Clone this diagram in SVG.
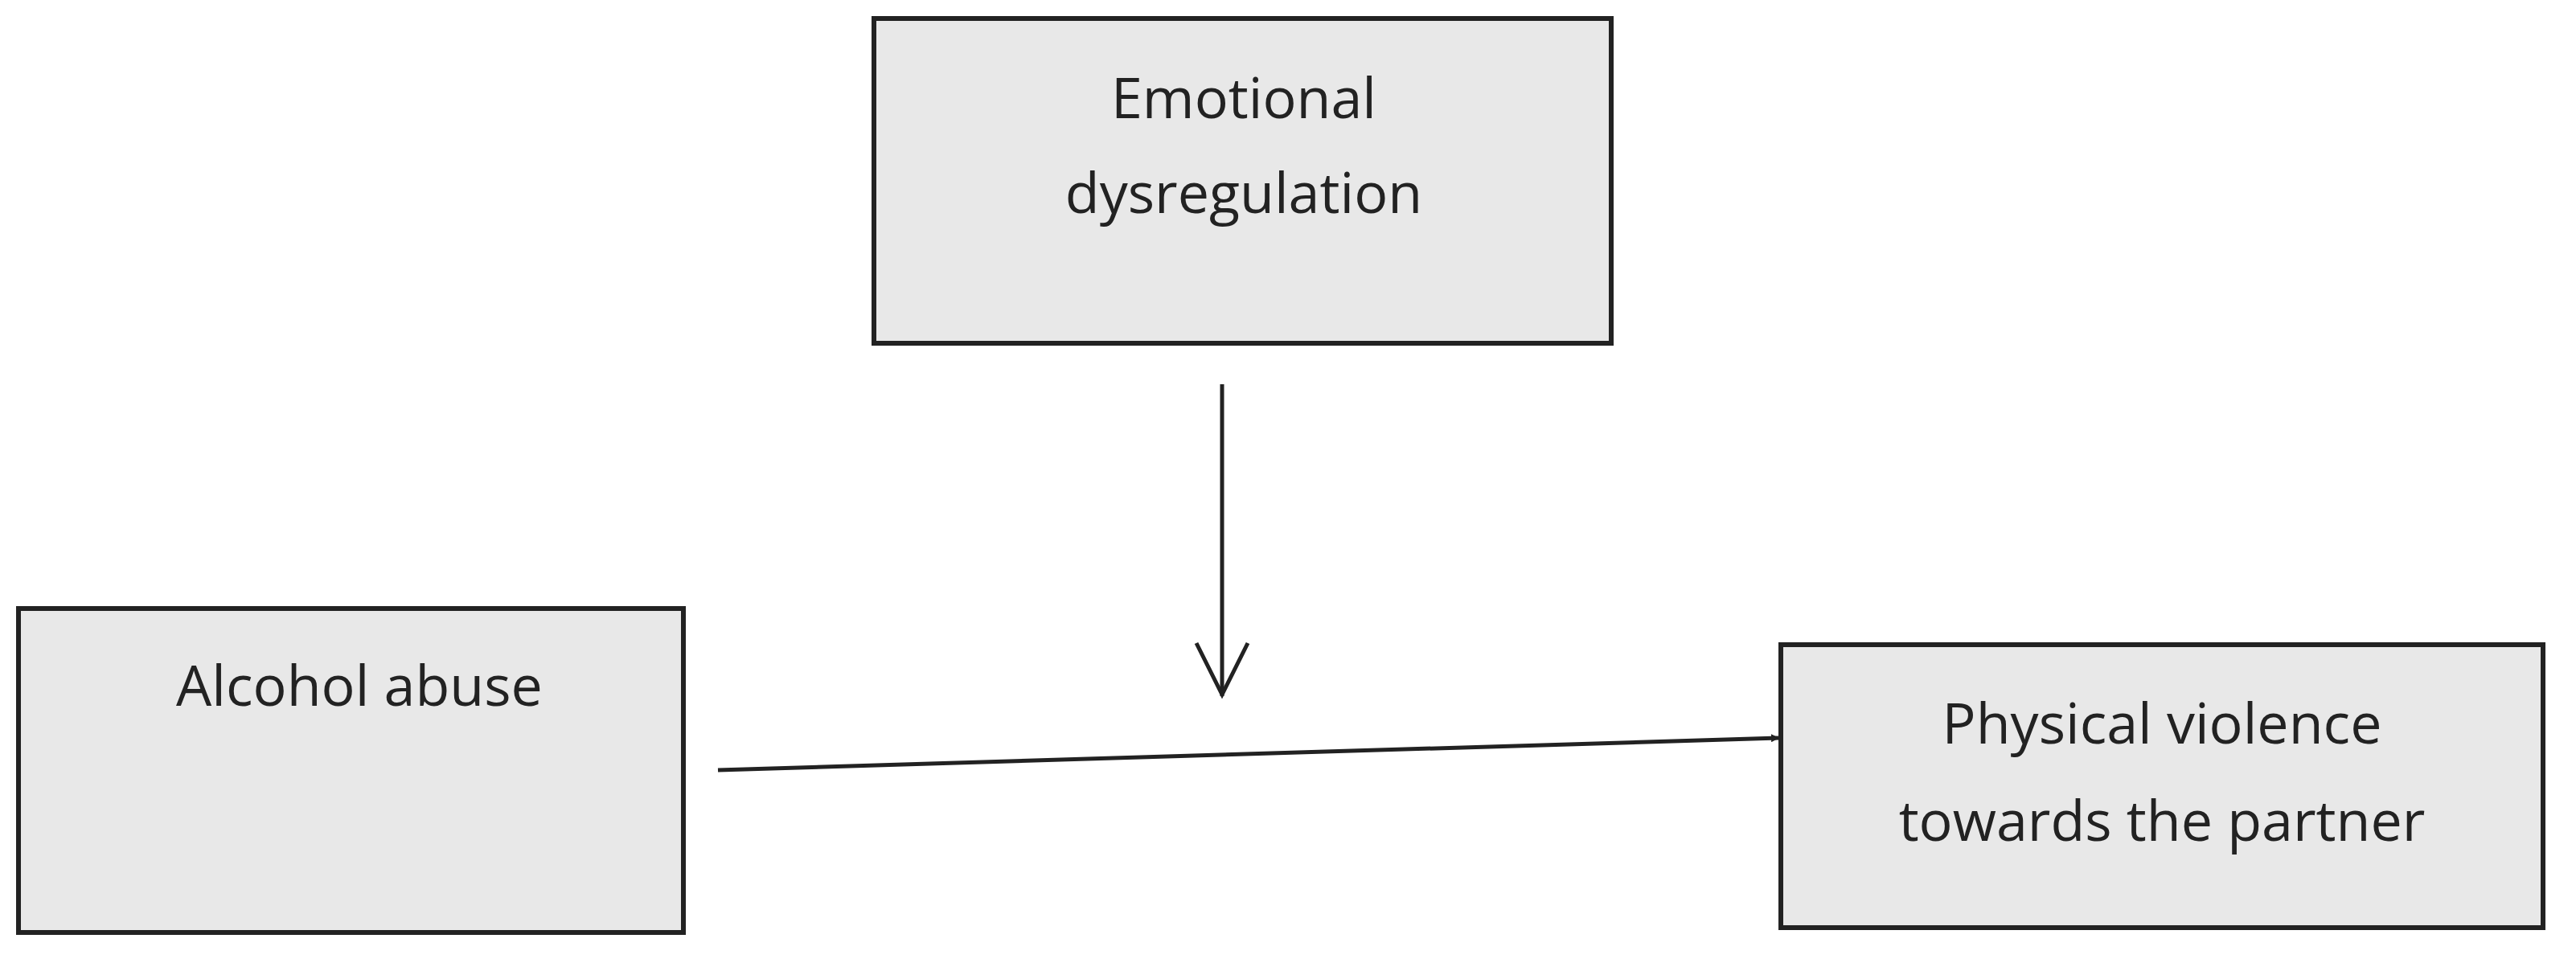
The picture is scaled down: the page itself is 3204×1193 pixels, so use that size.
<svg xmlns="http://www.w3.org/2000/svg" width="3204" height="1193" viewBox="0 0 3204 1193">
<style>
.box{fill:#e8e8e8;stroke:#222;stroke-width:6}
.t{font-family:"Open Sans","Liberation Sans",sans-serif;font-size:70px;fill:#222;text-anchor:middle}
.c{stroke:#222;stroke-width:5;fill:none}
</style>
<defs>
<marker id="tri" markerWidth="10" markerHeight="10" refX="9" refY="5" orient="auto" markerUnits="userSpaceOnUse" viewBox="0 0 10 10">
<path d="M0,0 L10,5 L0,10 Z" fill="#222"/>
</marker>
</defs>
<rect width="3204" height="1193" fill="#fff"/>
<g id="emotional">
<rect class="box" x="1087" y="23" width="917" height="404"/>
<text class="t" x="1547" y="147">Emotional</text>
<text class="t" x="1547" y="265">dysregulation</text>
</g>
<g id="alcohol">
<rect class="box" x="23" y="757" width="827" height="403"/>
<text class="t" x="447" y="878">Alcohol abuse</text>
</g>
<g id="violence">
<rect class="box" x="2215" y="802" width="948" height="352"/>
<text class="t" x="2689" y="925">Physical violence</text>
<text class="t" x="2689" y="1046">towards the partner</text>
</g>
<g id="connectors">
<line class="c" x1="1520" y1="478" x2="1520" y2="866"/>
<polyline class="c" points="1488,800 1520,864 1552,800" stroke-width="10"/>
<line class="c" x1="893" y1="958" x2="2212" y2="918" marker-end="url(#tri)" style="marker-end:url(#tri)"/>
</g>
<defs></defs>
</svg>
